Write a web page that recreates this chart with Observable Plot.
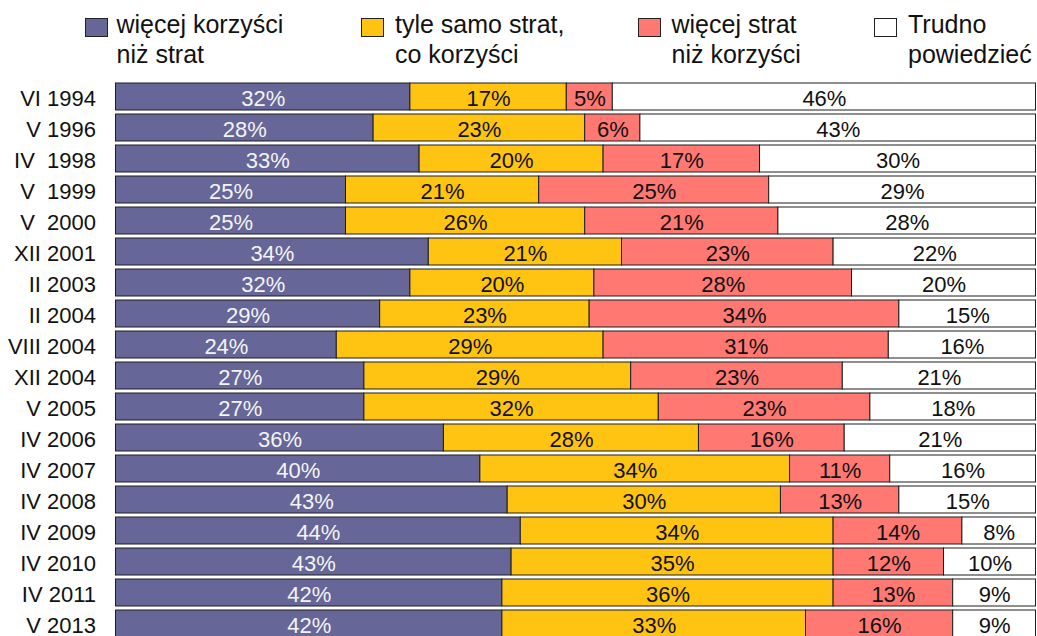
<!DOCTYPE html>
<html>
<head>
<meta charset="utf-8">
<script src="https://cdn.jsdelivr.net/npm/d3@7"></script>
<script src="https://cdn.jsdelivr.net/npm/@observablehq/plot@0.6"></script>
<style>
  html, body { margin: 0; padding: 0; background: #fff; overflow: hidden; }
  body { width: 1037px; height: 636px; font-family: "Liberation Sans", Arial, sans-serif; }
  #legend { position: relative; height: 80px; width: 1037px; }
  .sw { position: absolute; top: 18px; width: 21px; height: 17px; border: 1px solid #222; box-sizing: content-box; }
  .lt { position: absolute; top: 8.5px; font-size: 25px; line-height: 30px; color: #111; white-space: nowrap; }
  #chart svg { display: block; }
</style>
</head>
<body>
<div id="legend"></div>
<div id="chart"></div>
<script>
const dates = ["VI 1994", "V 1996", "IV\u00a0 1998", "V\u00a0 1999", "V\u00a0 2000", "XII 2001", "II 2003", "II 2004", "VIII 2004", "XII 2004", "V 2005", "IV 2006", "IV 2007", "IV 2008", "IV 2009", "IV 2010", "IV 2011", "V 2013"];
const categories = ["więcej korzyści niż strat", "tyle samo strat, co korzyści", "więcej strat niż korzyści", "Trudno powiedzieć"];
const legendLines = [["więcej korzyści", "niż strat"], ["tyle samo strat,", "co korzyści"], ["więcej strat", "niż korzyści"], ["Trudno", "powiedzieć"]];
const colors = ["#666699", "#FFC312", "#FF7871", "#FFFFFF"];
const textColors = ["#F4F4F4", "#111111", "#111111", "#111111"];
const moreBenefits = [32, 28, 33, 25, 25, 34, 32, 29, 24, 27, 27, 36, 40, 43, 44, 43, 42, 42];
const sameBoth = [17, 23, 20, 21, 26, 21, 20, 23, 29, 29, 32, 28, 34, 30, 34, 35, 36, 33];
const moreLosses = [5, 6, 17, 25, 21, 23, 28, 34, 31, 23, 23, 16, 11, 13, 14, 12, 13, 16];
const hardToSay = [46, 43, 30, 29, 28, 22, 20, 15, 16, 21, 18, 21, 16, 15, 8, 10, 9, 9];

const series = [moreBenefits, sameBoth, moreLosses, hardToSay];
const data = [];
dates.forEach((d, i) => {
  series.forEach((s, k) => {
    data.push({date: d, cat: categories[k], value: s[i], tc: textColors[k]});
  });
});

// Legend (HTML, above the SVG)
const legendSwatchX = [85, 361, 638, 874];
const legendTextX = [116.5, 395, 671.5, 908];
const legend = document.getElementById("legend");
categories.forEach((c, k) => {
  const sw = document.createElement("div");
  sw.className = "sw";
  sw.style.left = legendSwatchX[k] + "px";
  sw.style.background = colors[k];
  legend.appendChild(sw);
  const t = document.createElement("div");
  t.className = "lt";
  t.style.left = legendTextX[k] + "px";
  t.innerHTML = legendLines[k].join("<br>");
  legend.appendChild(t);
});

const stackOpts = {x: "value", y: "date", z: "cat", offset: "normalize", order: categories};

const chart = Plot.plot({
  width: 1037,
  height: 575,
  marginTop: 2.7,
  marginBottom: 15.5,
  marginLeft: 115.5,
  marginRight: 1.5,
  style: {fontFamily: "'Liberation Sans', Arial, sans-serif", background: "#fff"},
  x: {axis: null},
  y: {domain: dates, paddingInner: 0.14, paddingOuter: 0, align: 0, label: null},
  color: {domain: categories, range: colors},
  marks: [
    Plot.barX(data, Plot.stackX({...stackOpts, fill: "cat", stroke: "#1e1e1e", strokeWidth: 1})),
    Plot.text(data, Plot.stackX({...stackOpts, text: d => d.value + "%", fill: "tc", fontSize: 22, dy: 2})),
    Plot.axisY({tickSize: 0, tickPadding: 20, fontSize: 22, fill: "#111", label: null, dy: 2})
  ]
});
document.getElementById("chart").appendChild(chart);
</script>
</body>
</html>
